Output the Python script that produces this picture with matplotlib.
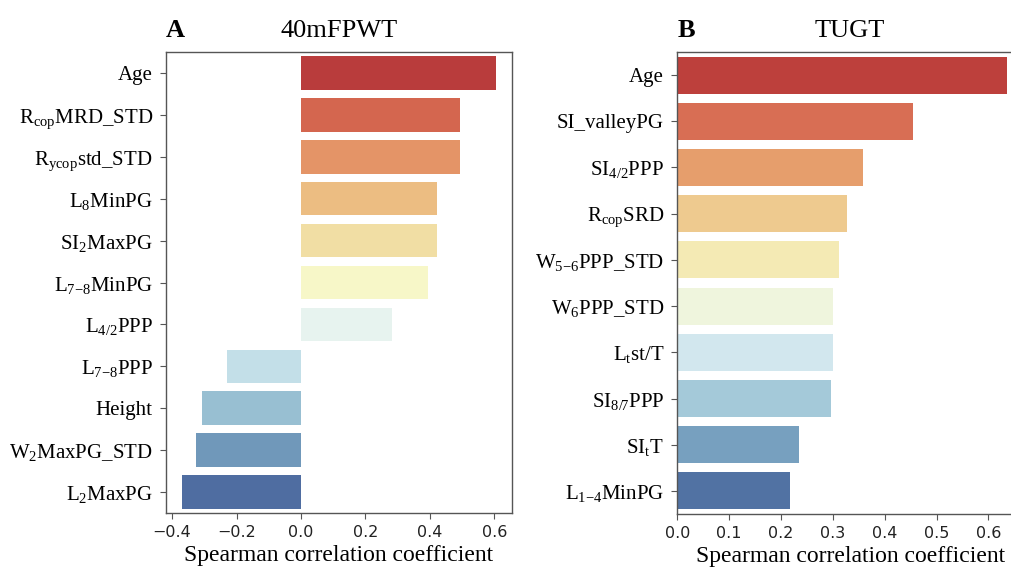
import matplotlib
matplotlib.use("Agg")
import matplotlib.pyplot as plt
import matplotlib.transforms as mtransforms
import numpy as np
import seaborn as sns
import colorsys

# ---------------- data ----------------
labels_a = [r"Age", r"R$_{\mathrm{cop}}$MRD_STD", r"R$_{\mathrm{ycop}}$std_STD",
            r"L$_{8}$MinPG", r"SI$_{2}$MaxPG", r"L$_{7{-}8}$MinPG", r"L$_{4/2}$PPP",
            r"L$_{7{-}8}$PPP", r"Height", r"W$_{2}$MaxPG_STD", r"L$_{2}$MaxPG"]
values_a = [0.606, 0.494, 0.492, 0.422, 0.422, 0.393, 0.283,
            -0.228, -0.306, -0.327, -0.370]

labels_b = [r"Age", r"SI_valleyPG", r"SI$_{4/2}$PPP", r"R$_{\mathrm{cop}}$SRD",
            r"W$_{5{-}6}$PPP_STD", r"W$_{6}$PPP_STD", r"L$_{\mathrm{t}}$st/T",
            r"SI$_{8/7}$PPP", r"SI$_{\mathrm{t}}$T", r"L$_{1{-}4}$MinPG"]
values_b = [0.635, 0.455, 0.358, 0.327, 0.312, 0.300, 0.300, 0.296, 0.235, 0.217]

titles = ["40mFPWT", "TUGT"]
panel_letters = ["A", "B"]
xlabel = "Spearman correlation coefficient"

# ---------------- style ----------------
plt.rcParams['mathtext.fontset'] = 'custom'
plt.rcParams['mathtext.rm'] = 'Liberation Serif'
plt.rcParams['mathtext.it'] = 'Liberation Serif:italic'
plt.rcParams['mathtext.bf'] = 'Liberation Serif:bold'
plt.rcParams['mathtext.default'] = 'rm'

SERIF = 'Liberation Serif'
SPINE = '#555555'


def desat(c, s=0.75):
    h, l, sat = colorsys.rgb_to_hls(*c[:3])
    return colorsys.hls_to_rgb(h, l, sat * s)


W, H = 1012, 569
fig = plt.figure(figsize=(W / 100, H / 100), dpi=100)

axes_px = [(166, 52, 512, 513), (677.3, 52, 1023, 514)]

for i, (labels, values) in enumerate([(labels_a, values_a), (labels_b, values_b)]):
    x0, y0, x1, y1 = axes_px[i]
    ax = fig.add_axes([x0 / W, (H - y1) / H, (x1 - x0) / W, (y1 - y0) / H])
    n = len(values)
    pal = [desat(c) for c in sns.color_palette("RdYlBu", n)]
    y = np.arange(n)
    ax.barh(y, values, height=0.8, color=pal)
    ax.set_ylim(n - 0.5, -0.5)
    ax.set_yticks(y)
    ax.set_yticklabels(labels, fontfamily=SERIF, fontsize=15)
    ax.tick_params(axis='y', length=4.5, color=SPINE, pad=5)
    ax.tick_params(axis='x', length=4.5, color=SPINE, labelsize=11.5, pad=4,
                   labelcolor='#222222')
    if i == 0:
        ax.set_xticks([-0.4, -0.2, 0.0, 0.2, 0.4, 0.6])
    else:
        ax.set_xticks([0.0, 0.1, 0.2, 0.3, 0.4, 0.5, 0.6])
    for s in ax.spines.values():
        s.set_color(SPINE)
        s.set_linewidth(1.0)
    ax.set_xlabel(xlabel, fontfamily=SERIF, fontsize=17, labelpad=4)
    ax.set_title(titles[i], fontfamily=SERIF, fontsize=19, pad=11)
    off = mtransforms.offset_copy(ax.transAxes, fig=fig, x=0, y=11, units='points')
    ax.text(0.0, 1.0, panel_letters[i], transform=off,
            fontfamily=SERIF, fontweight='bold', fontsize=19, ha='left', va='baseline')

fig.savefig("out.png", dpi=100)
